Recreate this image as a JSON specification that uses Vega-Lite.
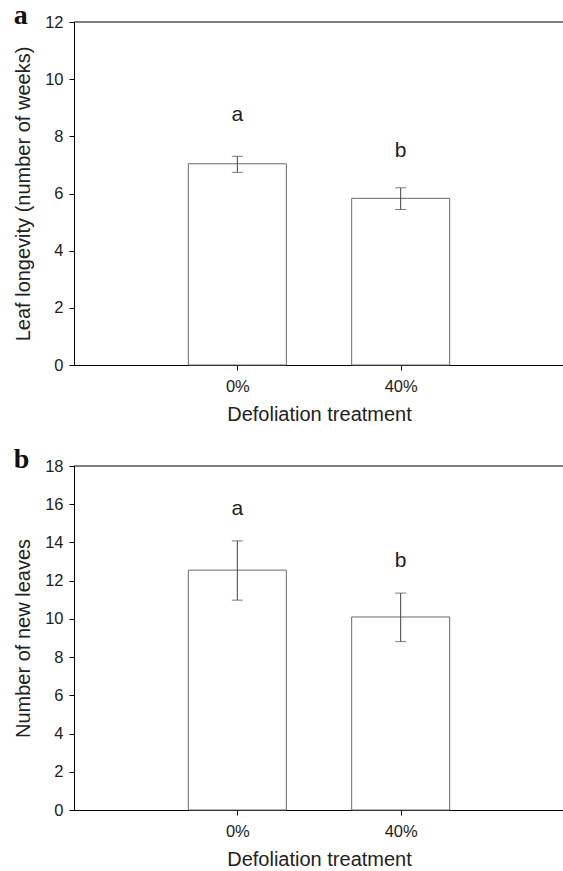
{
  "$schema": "https://vega.github.io/schema/vega-lite/v6.json",
  "padding": {"left": 13, "top": 2, "right": 0, "bottom": 0},
  "spacing": 21,
  "config": {
    "font": "Liberation Sans",
    "view": {"stroke": null},
    "axis": {
      "domainColor": "#000", "tickColor": "#000", "labelColor": "#222", "titleColor": "#222",
      "labelFontSize": 16.5, "titleFontSize": 20, "titleFontWeight": "normal", "grid": false,
      "tickSize": 5, "labelFont": "Liberation Sans", "titleFont": "Liberation Sans", "labelOverlap": false
    },
    "title": {"font": "Liberation Serif", "fontSize": 28, "fontWeight": "bold", "anchor": "start", "frame": "bounds", "color": "#111", "offset": -16}
  },
  "datasets": {
    "leaf": [
      {"treatment": "0%", "mean": 7.04, "lo": 6.74, "hi": 7.30, "sig": "a", "sig_y": 8.53},
      {"treatment": "40%", "mean": 5.83, "lo": 5.44, "hi": 6.20, "sig": "b", "sig_y": 7.28}
    ],
    "newleaves": [
      {"treatment": "0%", "mean": 12.55, "lo": 10.98, "hi": 14.08, "sig": "a", "sig_y": 15.45},
      {"treatment": "40%", "mean": 10.10, "lo": 8.81, "hi": 11.35, "sig": "b", "sig_y": 12.74}
    ],
    "frame": [{"top": 1}]
  },
  "vconcat": [
    {
      "title": "a",
      "width": 490, "height": 343,
      "layer": [
        {
          "data": {"name": "leaf"},
          "mark": {"type": "bar", "width": 98, "fill": "white", "stroke": "#6a6a6a", "strokeWidth": 1},
          "encoding": {
            "x": {"field": "treatment", "type": "ordinal", "scale": {"type": "point", "padding": 1},
                  "axis": {"title": "Defoliation treatment", "labelAngle": 0, "labelPadding": 8, "titlePadding": 10}},
            "y": {"field": "mean", "type": "quantitative", "scale": {"domain": [0, 12], "nice": false},
                  "axis": {"title": "Leaf longevity (number of weeks)", "values": [0, 2, 4, 6, 8, 10, 12], "labelPadding": 6, "titlePadding": 11}}
          }
        },
        {
          "data": {"name": "leaf"},
          "mark": {"type": "rule", "color": "#444", "strokeWidth": 1},
          "encoding": {
            "x": {"field": "treatment", "type": "ordinal"},
            "y": {"field": "lo", "type": "quantitative", "axis": {"title": "Leaf longevity (number of weeks)", "values": [0, 2, 4, 6, 8, 10, 12], "labelPadding": 6, "titlePadding": 11}},
            "y2": {"field": "hi"}
          }
        },
        {
          "data": {"name": "leaf"},
          "mark": {"type": "tick", "orient": "horizontal", "size": 11, "thickness": 1, "color": "#444"},
          "encoding": {
            "x": {"field": "treatment", "type": "ordinal"},
            "y": {"field": "lo", "type": "quantitative", "axis": {"title": "Leaf longevity (number of weeks)", "values": [0, 2, 4, 6, 8, 10, 12], "labelPadding": 6, "titlePadding": 11}}
          }
        },
        {
          "data": {"name": "leaf"},
          "mark": {"type": "tick", "orient": "horizontal", "size": 11, "thickness": 1, "color": "#444"},
          "encoding": {
            "x": {"field": "treatment", "type": "ordinal"},
            "y": {"field": "hi", "type": "quantitative", "axis": {"title": "Leaf longevity (number of weeks)", "values": [0, 2, 4, 6, 8, 10, 12], "labelPadding": 6, "titlePadding": 11}}
          }
        },
        {
          "data": {"name": "leaf"},
          "mark": {"type": "text", "fontSize": 21, "baseline": "alphabetic", "color": "#222"},
          "encoding": {
            "x": {"field": "treatment", "type": "ordinal"},
            "y": {"field": "sig_y", "type": "quantitative", "axis": {"title": "Leaf longevity (number of weeks)", "values": [0, 2, 4, 6, 8, 10, 12], "labelPadding": 6, "titlePadding": 11}},
            "text": {"field": "sig"}
          }
        },
        {
          "data": {"name": "frame"},
          "mark": {"type": "rule", "color": "#000", "strokeWidth": 1},
          "encoding": {"y": {"datum": 12, "type": "quantitative", "axis": {"title": "Leaf longevity (number of weeks)", "values": [0, 2, 4, 6, 8, 10, 12], "labelPadding": 6, "titlePadding": 11}}}
        }
      ]
    },
    {
      "title": "b",
      "width": 490, "height": 344,
      "layer": [
        {
          "data": {"name": "newleaves"},
          "mark": {"type": "bar", "width": 98, "fill": "white", "stroke": "#6a6a6a", "strokeWidth": 1},
          "encoding": {
            "x": {"field": "treatment", "type": "ordinal", "scale": {"type": "point", "padding": 1},
                  "axis": {"title": "Defoliation treatment", "labelAngle": 0, "labelPadding": 8, "titlePadding": 10}},
            "y": {"field": "mean", "type": "quantitative", "scale": {"domain": [0, 18], "nice": false},
                  "axis": {"title": "Number of new leaves", "values": [0, 2, 4, 6, 8, 10, 12, 14, 16, 18], "labelPadding": 6, "titlePadding": 11}}
          }
        },
        {
          "data": {"name": "newleaves"},
          "mark": {"type": "rule", "color": "#444", "strokeWidth": 1},
          "encoding": {
            "x": {"field": "treatment", "type": "ordinal"},
            "y": {"field": "lo", "type": "quantitative", "axis": {"title": "Number of new leaves", "values": [0, 2, 4, 6, 8, 10, 12, 14, 16, 18], "labelPadding": 6, "titlePadding": 11}},
            "y2": {"field": "hi"}
          }
        },
        {
          "data": {"name": "newleaves"},
          "mark": {"type": "tick", "orient": "horizontal", "size": 11, "thickness": 1, "color": "#444"},
          "encoding": {
            "x": {"field": "treatment", "type": "ordinal"},
            "y": {"field": "lo", "type": "quantitative", "axis": {"title": "Number of new leaves", "values": [0, 2, 4, 6, 8, 10, 12, 14, 16, 18], "labelPadding": 6, "titlePadding": 11}}
          }
        },
        {
          "data": {"name": "newleaves"},
          "mark": {"type": "tick", "orient": "horizontal", "size": 11, "thickness": 1, "color": "#444"},
          "encoding": {
            "x": {"field": "treatment", "type": "ordinal"},
            "y": {"field": "hi", "type": "quantitative", "axis": {"title": "Number of new leaves", "values": [0, 2, 4, 6, 8, 10, 12, 14, 16, 18], "labelPadding": 6, "titlePadding": 11}}
          }
        },
        {
          "data": {"name": "newleaves"},
          "mark": {"type": "text", "fontSize": 21, "baseline": "alphabetic", "color": "#222"},
          "encoding": {
            "x": {"field": "treatment", "type": "ordinal"},
            "y": {"field": "sig_y", "type": "quantitative", "axis": {"title": "Number of new leaves", "values": [0, 2, 4, 6, 8, 10, 12, 14, 16, 18], "labelPadding": 6, "titlePadding": 11}},
            "text": {"field": "sig"}
          }
        },
        {
          "data": {"name": "frame"},
          "mark": {"type": "rule", "color": "#000", "strokeWidth": 1},
          "encoding": {"y": {"datum": 18, "type": "quantitative", "axis": {"title": "Number of new leaves", "values": [0, 2, 4, 6, 8, 10, 12, 14, 16, 18], "labelPadding": 6, "titlePadding": 11}}}
        }
      ]
    }
  ]
}
